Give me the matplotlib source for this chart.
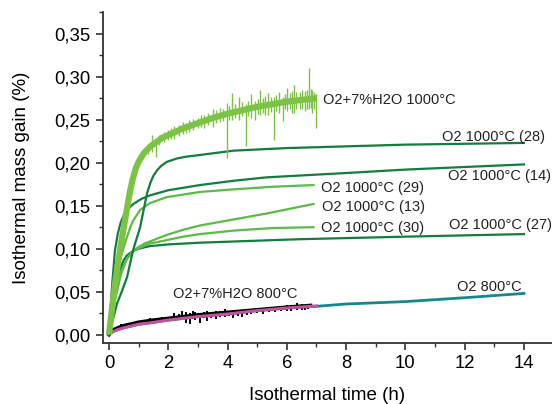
import numpy as np
import matplotlib
matplotlib.use("Agg")
import matplotlib.pyplot as plt
from matplotlib.ticker import MultipleLocator, FuncFormatter

plt.rcParams["font.family"] = ["Liberation Sans", "DejaVu Sans"]

# --- data ---
# O2+7%H2O 1000°C (noisy band)
h2o1000_t = [0, 0.05, 0.1, 0.2, 0.3, 0.4, 0.5, 0.6, 0.7, 0.8, 0.9, 1.0, 1.1, 1.2, 1.4,
             1.6, 1.8, 2.0, 2.5, 3.0, 3.5, 4.0, 4.5, 5.0, 5.5, 6.0, 6.5, 7.0]
h2o1000_m = [0, 0.015, 0.03, 0.058, 0.082, 0.105, 0.125, 0.145, 0.165, 0.181, 0.193,
             0.201, 0.207, 0.212, 0.219, 0.224, 0.229, 0.232, 0.240, 0.246, 0.252, 0.257,
             0.261, 0.265, 0.268, 0.271, 0.273, 0.275]
# spikes: (time, low, high)
h2o1000_spikes = [(1.3, 0.210, 0.222), (1.44, 0.213, 0.232), (1.59, 0.207, 0.226),
                  (1.7, 0.221, 0.232), (1.85, 0.224, 0.236), (2.0, 0.226, 0.238),
                  (2.1, 0.227, 0.240), (2.2, 0.228, 0.243), (2.35, 0.231, 0.244),
                  (2.5, 0.233, 0.247), (2.6, 0.235, 0.246), (2.7, 0.236, 0.250),
                  (2.85, 0.238, 0.251), (3.0, 0.240, 0.252), (3.1, 0.241, 0.255),
                  (3.2, 0.240, 0.256), (3.35, 0.244, 0.258), (3.5, 0.242, 0.262),
                  (3.62, 0.246, 0.261), (3.75, 0.247, 0.264), (3.85, 0.248, 0.262),
                  (3.97, 0.205, 0.269), (4.05, 0.250, 0.266), (4.14, 0.250, 0.281),
                  (4.25, 0.252, 0.268), (4.4, 0.250, 0.276), (4.5, 0.254, 0.270),
                  (4.62, 0.219, 0.268), (4.7, 0.254, 0.272), (4.8, 0.252, 0.280),
                  (4.93, 0.250, 0.272), (5.02, 0.257, 0.274), (5.1, 0.255, 0.285),
                  (5.2, 0.258, 0.275), (5.28, 0.256, 0.278), (5.36, 0.256, 0.281),
                  (5.45, 0.259, 0.276), (5.57, 0.226, 0.276), (5.65, 0.260, 0.279),
                  (5.75, 0.258, 0.282), (5.87, 0.248, 0.276), (5.93, 0.262, 0.280),
                  (6.0, 0.260, 0.2865), (6.1, 0.262, 0.281), (6.17, 0.258, 0.283),
                  (6.24, 0.258, 0.290), (6.32, 0.263, 0.282), (6.45, 0.262, 0.282),
                  (6.52, 0.262, 0.285), (6.6, 0.260, 0.283), (6.67, 0.263, 0.284),
                  (6.74, 0.262, 0.310), (6.8, 0.264, 0.286), (6.85, 0.258, 0.285),
                  (6.92, 0.263, 0.282), (6.97, 0.240, 0.280)]

o2_28_t = [0, 0.15, 0.27, 0.45, 0.61, 0.81, 1.05, 1.28, 1.4, 1.5, 1.62, 1.75, 1.95, 2.3,
           2.6, 3.07, 4.2, 6.0, 8.0, 10.0, 12.0, 14.0]
o2_28_m = [0, 0.02, 0.036, 0.052, 0.067, 0.098, 0.125, 0.164, 0.177, 0.185, 0.191, 0.196,
           0.201, 0.205, 0.207, 0.209, 0.214, 0.217, 0.219, 0.221, 0.222, 0.223]

o2_14_t = [0, 0.1, 0.2, 0.3, 0.4, 0.5, 0.6, 0.82, 1.1, 1.38, 2.0, 3.07, 4.2, 5.33, 8.0,
           10.0, 12.0, 14.0]
o2_14_m = [0, 0.055, 0.098, 0.118, 0.131, 0.139, 0.145, 0.152, 0.158, 0.162, 0.168, 0.174,
           0.179, 0.183, 0.188, 0.192, 0.195, 0.198]

o2_29_t = [0, 0.15, 0.37, 0.5, 0.61, 0.72, 0.82, 1.05, 1.38, 1.95, 3.07, 4.2, 5.5, 6.9]
o2_29_m = [0, 0.04, 0.087, 0.102, 0.114, 0.125, 0.133, 0.145, 0.153, 0.160, 0.166, 0.169,
           0.172, 0.174]

o2_13_t = [0, 0.2, 0.4, 0.6, 0.82, 1.0, 1.2, 1.5, 1.95, 2.5, 3.07, 4.2, 5.33, 6.9]
o2_13_m = [0, 0.04, 0.07, 0.088, 0.098, 0.102, 0.106, 0.110, 0.116, 0.122, 0.127, 0.134,
           0.141, 0.152]

o2_30_t = [0, 0.2, 0.4, 0.6, 0.82, 1.1, 1.38, 1.95, 2.5, 3.07, 4.2, 5.5, 6.9]
o2_30_m = [0, 0.042, 0.072, 0.088, 0.097, 0.102, 0.106, 0.110, 0.114, 0.117, 0.121, 0.124,
           0.125]

o2_27_t = [0, 0.1, 0.27, 0.4, 0.5, 0.6, 0.71, 0.85, 1.0, 1.38, 2.0, 3.07, 6.4, 10.0, 14.0]
o2_27_m = [0, 0.03, 0.060, 0.078, 0.087, 0.092, 0.095, 0.098, 0.100, 0.103, 0.105, 0.107,
           0.111, 0.114, 0.117]

o2_800_t = [0, 0.1, 0.3, 0.5, 1.0, 1.6, 2.0, 3.0, 4.0, 5.0, 6.0, 7.0, 8.0, 10.0, 12.0, 14.0]
o2_800_m = [0, 0.003, 0.006, 0.008, 0.012, 0.015, 0.017, 0.021, 0.024, 0.028, 0.031, 0.033,
            0.0357, 0.0385, 0.043, 0.048]

fit800_t = [0, 0.1, 0.3, 0.5, 1.0, 1.38, 2.0, 3.0, 4.0, 5.0, 6.0, 7.0]
fit800_m = [0, 0.003, 0.006, 0.008, 0.0122, 0.0137, 0.017, 0.021, 0.024, 0.028, 0.031, 0.0334]

h2o800_t = [0, 0.1, 0.3, 0.5, 1.0, 1.5, 2.0, 3.0, 4.0, 5.0, 6.0, 6.8]
h2o800_m = [0, 0.005, 0.008, 0.0105, 0.0145, 0.017, 0.019, 0.023, 0.026, 0.029, 0.032, 0.034]
h2o800_spikes = [(0.4, 0.008, 0.012), (0.6, 0.010, 0.014), (0.8, 0.011, 0.015),
                 (1.0, 0.012, 0.016), (1.2, 0.012, 0.017), (1.4, 0.014, 0.019),
                 (1.6, 0.015, 0.019), (1.8, 0.015, 0.021), (2.0, 0.016, 0.021),
                 (2.2, 0.016, 0.025), (2.35, 0.018, 0.024), (2.45, 0.017, 0.027),
                 (2.6, 0.014, 0.026), (2.73, 0.013, 0.025), (2.82, 0.018, 0.027),
                 (2.9, 0.017, 0.026), (3.0, 0.019, 0.025), (3.07, 0.0135, 0.025),
                 (3.2, 0.019, 0.026), (3.3, 0.016, 0.027), (3.45, 0.020, 0.026),
                 (3.6, 0.018, 0.028), (3.75, 0.021, 0.028), (3.91, 0.021, 0.0295),
                 (4.05, 0.022, 0.028), (4.2, 0.019, 0.028), (4.35, 0.022, 0.028),
                 (4.5, 0.021, 0.029), (4.65, 0.023, 0.029), (4.8, 0.024, 0.030),
                 (5.0, 0.025, 0.031), (5.2, 0.024, 0.031), (5.4, 0.026, 0.031),
                 (5.6, 0.026, 0.032), (5.8, 0.027, 0.033), (6.0, 0.027, 0.034),
                 (6.15, 0.028, 0.035), (6.33, 0.029, 0.037), (6.5, 0.029, 0.036),
                 (6.6, 0.029, 0.035), (6.7, 0.030, 0.035)]

labels = ["O2+7%H2O 1000°C", "O2 1000°C (28)", "O2 1000°C (14)", "O2 1000°C (29)",
          "O2 1000°C (13)", "O2 1000°C (30)", "O2 1000°C (27)", "O2 800°C",
          "O2+7%H2O 800°C"]
label_pos = [(7.22, 0.273), (11.23, 0.230), (11.44, 0.184), (7.15, 0.170),
             (7.19, 0.148), (7.15, 0.124), (11.47, 0.127), (11.74, 0.0555),
             (2.16, 0.047)]

dark = "#137c3e"
mid = "#5cb947"
light = "#7cc245"
teal = "#13898c"
pink = "#c0549f"

W, H = 552, 404
fig = plt.figure(figsize=(W / 100, H / 100), dpi=100)
ax = fig.add_axes([103 / W, 1 - 343 / H, (W - 103) / W, (343 - 12) / H])

ax.plot(o2_800_t, o2_800_m, color=teal, lw=2.0)
ax.plot(h2o800_t, h2o800_m, color="black", lw=2.6)
ax.vlines([s[0] for s in h2o800_spikes], [s[1] for s in h2o800_spikes],
          [s[2] for s in h2o800_spikes], color="black", lw=1.4)
ax.plot(fit800_t, fit800_m, color=pink, lw=2.2)

ax.plot(o2_27_t, o2_27_m, color=dark, lw=1.6)
ax.plot(o2_30_t, o2_30_m, color=mid, lw=1.6)
ax.plot(o2_13_t, o2_13_m, color=mid, lw=1.6)
ax.plot(o2_29_t, o2_29_m, color=mid, lw=1.6)
ax.plot(o2_14_t, o2_14_m, color=dark, lw=1.6)
ax.plot(o2_28_t, o2_28_m, color=dark, lw=1.6)

ax.plot(h2o1000_t, h2o1000_m, color=light, lw=4.5, solid_capstyle="butt",
        solid_joinstyle="round")
ax.vlines([s[0] for s in h2o1000_spikes], [s[1] for s in h2o1000_spikes],
          [s[2] for s in h2o1000_spikes], color=light, lw=1.0)

for txt, (x, y) in zip(labels, label_pos):
    ax.text(x, y, txt, fontsize=10.5, va="center", ha="left", color="#222222")

ax.set_xlim(-6 / 29.64, (W - 109) / 29.64)
ax.set_ylim(-(343 - 334.7) / 860, (334.7 - 12) / 860)

ax.spines["top"].set_visible(False)
ax.spines["right"].set_visible(False)
for s in ["left", "bottom"]:
    ax.spines[s].set_linewidth(1.3)
    ax.spines[s].set_color("#333333")

ax.xaxis.set_major_locator(MultipleLocator(2))
ax.xaxis.set_minor_locator(MultipleLocator(1))
ax.yaxis.set_major_locator(MultipleLocator(0.05))
ax.yaxis.set_minor_locator(MultipleLocator(0.025))
ax.yaxis.set_major_formatter(FuncFormatter(lambda v, p: f"{v:.2f}".replace(".", ",")))
ax.tick_params(which="major", length=5, width=1.2, color="#333333", labelsize=13.3, pad=4)
ax.tick_params(which="minor", length=3, width=1.0, color="#333333")

ax.set_xlabel("Isothermal time (h)", fontsize=13.5)
ax.set_ylabel("Isothermal mass gain (%)", fontsize=13.5)
ax.xaxis.set_label_coords(0.5, -(387 - 343) / 331)
ax.xaxis.label.set_va("top")
ax.yaxis.set_label_coords(-(103 - 30) / 449, 0.5)

fig.savefig("out.png", dpi=100)
